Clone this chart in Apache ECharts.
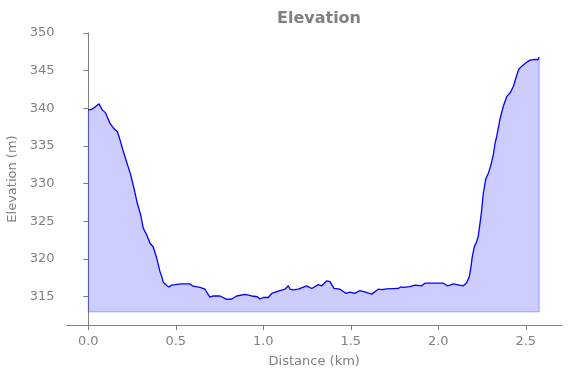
<!DOCTYPE html>
<html>
<head>
<meta charset="utf-8">
<script src="https://cdn.jsdelivr.net/npm/echarts@6/dist/echarts.min.js"></script>
<style>
  html, body { margin: 0; padding: 0; background: #fff; }
  #main { width: 571px; height: 378px; }
</style>
</head>
<body>
<div id="main"></div>
<script>
// distance along the route (km) and elevation (m)
const distanceKm = [
  0.000, 0.017, 0.040, 0.061, 0.080, 0.099, 0.124, 0.143, 0.166, 0.175,
  0.200, 0.219, 0.242, 0.261, 0.280, 0.299, 0.314, 0.334, 0.353, 0.371,
  0.391, 0.410, 0.419, 0.429, 0.448, 0.461, 0.476, 0.486, 0.530, 0.581,
  0.600, 0.638, 0.667, 0.681, 0.695, 0.714, 0.753, 0.791, 0.820, 0.848,
  0.895, 0.934, 0.966, 0.981, 1.000, 1.029, 1.048, 1.095, 1.124, 1.143,
  1.153, 1.171, 1.200, 1.248, 1.277, 1.314, 1.334, 1.362, 1.381, 1.404,
  1.438, 1.457, 1.473, 1.495, 1.524, 1.549, 1.581, 1.619, 1.657, 1.676,
  1.705, 1.771, 1.785, 1.800, 1.838, 1.867, 1.905, 1.924, 2.029, 2.051,
  2.067, 2.086, 2.095, 2.143, 2.162, 2.177, 2.187, 2.194, 2.206, 2.219,
  2.229, 2.246, 2.257, 2.271, 2.286, 2.300, 2.314, 2.324, 2.334, 2.353,
  2.371, 2.391, 2.412, 2.429, 2.438, 2.451, 2.460, 2.477, 2.501, 2.524,
  2.553, 2.562, 2.568, 2.577
];
const elevationM = [
  339.8, 339.85, 340.2, 340.6, 339.8, 339.4, 338.0, 337.4, 336.9, 336.3,
  334.3, 332.9, 331.2, 329.4, 327.4, 325.9, 324.1, 323.2, 322.1, 321.6,
  320.1, 318.3, 317.7, 316.9, 316.5, 316.3, 316.55, 316.7, 316.7, 316.7,
  316.4, 316.25, 316.0, 315.45, 314.95, 315.1, 315.1, 314.65, 314.7, 315.1,
  315.3, 315.1, 315.0, 314.7, 314.9, 314.9, 315.45, 315.8, 316.0, 316.45,
  316.0, 315.9, 316.0, 316.45, 316.1, 316.6, 316.45, 317.1, 317.0, 316.1,
  316.0, 315.7, 315.45, 315.6, 315.45, 315.8, 315.65, 315.35, 316.0, 315.95,
  316.05, 316.1, 316.3, 316.25, 316.35, 316.55, 316.45, 316.8, 316.8, 316.45,
  316.55, 316.7, 316.45, 316.45, 316.85, 317.65, 319.0, 320.3, 321.65, 322.3,
  323.1, 326.1, 328.7, 330.6, 331.4, 332.4, 333.8, 335.3, 336.3, 338.6,
  340.25, 341.55, 342.1, 342.9, 343.6, 344.6, 345.2, 345.6, 346.05, 346.4,
  346.5, 346.65, 346.45, 346.8
];
const fillBase = 313;
const xTicks = [0, 0.5, 1.0, 1.5, 2.0, 2.5];
const yTicks = [315, 320, 325, 330, 335, 340, 345, 350];

const grey = '#808080';
const font = 'DejaVu Sans';

const profile = distanceKm.map((d, i) => [d, elevationM[i]]);
const last = distanceKm.length - 1;
const outline = [
  [distanceKm[0], elevationM[0]],
  [distanceKm[0], fillBase],
  [distanceKm[last], fillBase],
  [distanceKm[last], elevationM[last]]
];

const chart = echarts.init(document.getElementById('main'));

const option = {
  animation: false,
  backgroundColor: '#fff',
  title: {
    text: 'Elevation',
    left: 314,
    textAlign: 'center',
    top: 6,
    textStyle: { color: grey, fontFamily: font, fontSize: 16, fontWeight: 'bold' }
  },
  grid: { left: 66.5, right: 9, top: 33, bottom: 53, outerBoundsMode: 'none' },
  xAxis: {
    type: 'value',
    min: -0.1246,
    max: 2.707,
    name: 'Distance (km)',
    nameLocation: 'middle',
    nameGap: 30,
    nameTextStyle: { color: grey, fontFamily: font, fontSize: 13 },
    axisLine: { show: true, lineStyle: { color: grey, width: 1 } },
    axisTick: { show: true, length: 5, customValues: xTicks, lineStyle: { color: grey } },
    axisLabel: {
      customValues: xTicks, margin: 10, color: grey, fontFamily: font, fontSize: 13,
      formatter: v => v.toFixed(1)
    },
    splitLine: { show: false }
  },
  yAxis: {
    type: 'value',
    min: 311.25,
    max: 350,
    name: 'Elevation (m)',
    nameLocation: 'middle',
    nameGap: 37,
    nameTextStyle: { color: grey, fontFamily: font, fontSize: 13 },
    axisLine: { show: true, lineStyle: { color: grey, width: 1 } },
    axisTick: { show: true, length: 5, customValues: yTicks, lineStyle: { color: grey } },
    axisLabel: { customValues: yTicks, margin: 12, color: grey, fontFamily: font, fontSize: 13 },
    splitLine: { show: false }
  },
  series: [
    {
      type: 'line',
      data: outline,
      symbol: 'none',
      silent: true,
      lineStyle: { color: 'rgba(0,0,255,0.2)', width: 1.5 },
      z: 3
    },
    {
      name: 'Elevation',
      type: 'line',
      data: profile,
      symbol: 'none',
      lineStyle: { color: '#0000ff', width: 1.3 },
      areaStyle: { color: 'rgba(0,0,255,0.2)', origin: fillBase, opacity: 1 },
      z: 4
    }
  ]
};
option && chart.setOption(option);
</script>
</body>
</html>
